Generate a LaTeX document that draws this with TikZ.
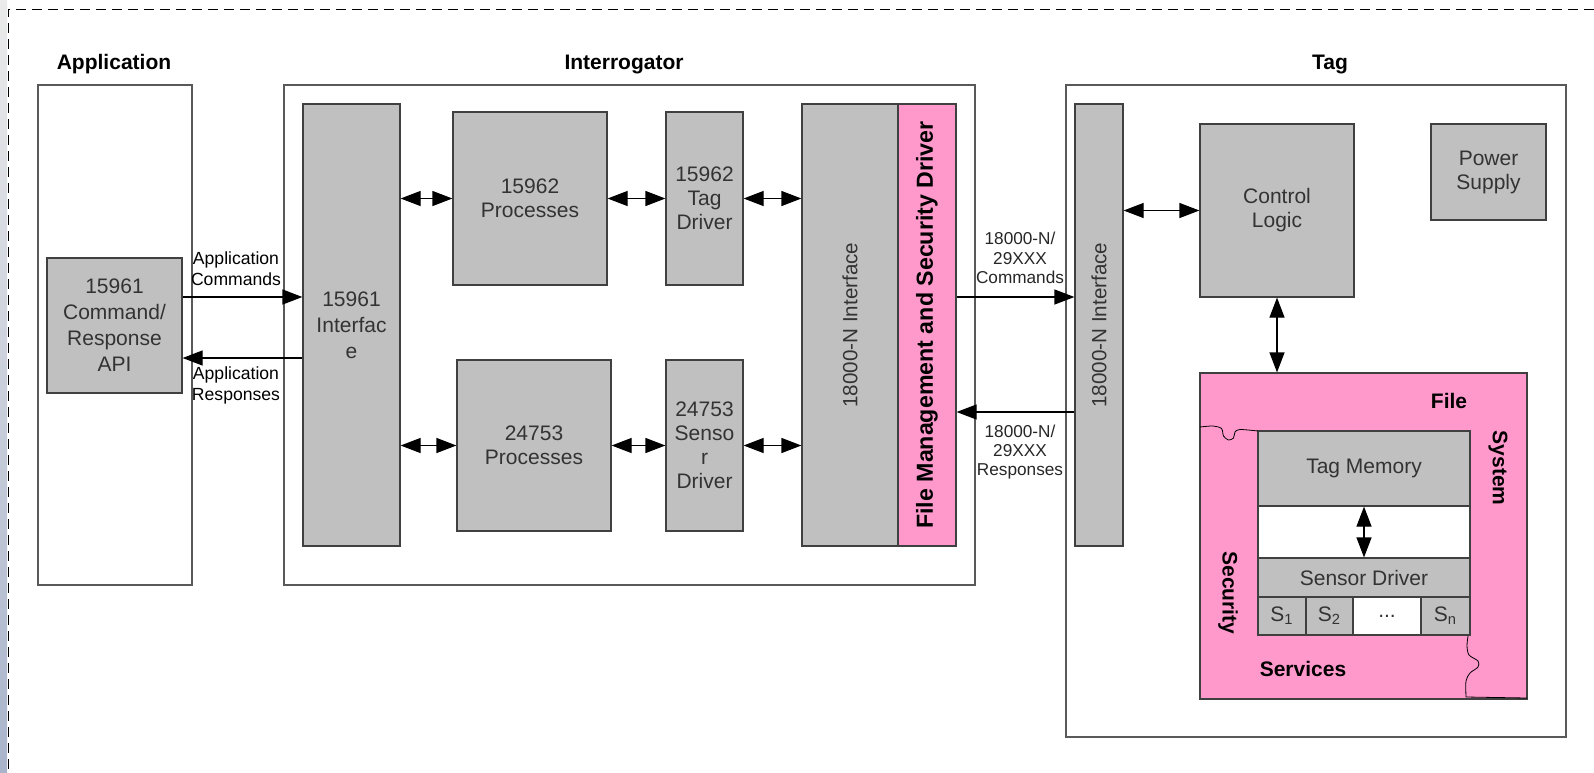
\documentclass[tikz,border=0pt]{standalone}
\usepackage{fontspec}
\setmainfont{Liberation Sans}
\usetikzlibrary{arrows.meta}
\definecolor{boxgray}{HTML}{C0C0C0}
\definecolor{fspink}{HTML}{FF99CC}
\definecolor{slideblue}{HTML}{A9B4CB}

\begin{document}
\begin{tikzpicture}[x=0.5pt,y=-0.5pt,>={Triangle[length=10pt,width=7.5pt]},
  unit/.style={draw=black!75, line width=0.6pt, fill=boxgray, inner sep=1pt, align=center,
    text=black!80, font=\fontsize{10.5}{12}\selectfont},
  frame/.style={draw=black!65, line width=0.7pt, inner sep=0pt},
  heading/.style={font=\fontsize{10.5}{12}\selectfont\bfseries},
  sidetext/.style={rotate=90, text=black!80, font=\fontsize{10.3}{12}\selectfont},
  pinktext/.style={font=\fontsize{10.5}{12}\selectfont\bfseries},
  flowlabel/.style={align=center, font=\fontsize{8.8}{10.5}\selectfont},
  airlabel/.style={align=center, text=black!85, font=\fontsize{8.6}{9.6}\selectfont},
  link/.style={<->, line width=0.6pt},
  puzzle/.style={line width=0.4pt}]
\useasboundingbox (0,0) rectangle (1594,772);
\shade[top color=black!8, bottom color=slideblue] (0,0) rectangle (7,772);
\draw[dash pattern=on 5pt off 3pt, line width=0.5pt] (1594,9) -- (8,9) -- (8,772);

\node[heading] (apptitle) at (114,64) {Application};
\node[heading] (intgtitle) at (624,64) {Interrogator};
\node[heading] (tagtitle) at (1330,64) {Tag};

% outer enclosures
\node[frame, minimum width=77pt, minimum height=250pt] (app) at (115,335) {};
\node[frame, minimum width=345.5pt, minimum height=250pt] (intg) at (629.5,335) {};
\node[frame, minimum width=250pt, minimum height=326pt] (tag) at (1316,411) {};

% application and interrogator blocks
\node[unit, minimum width=67.5pt, minimum height=67.5pt, font=\fontsize{10.5}{13}\selectfont] (api) at (114.5,325.5) {15961\\Command/\\Response\\API};
\node[unit, minimum width=48.5pt, minimum height=221pt, font=\fontsize{10.5}{13}\selectfont] (ifc) at (351.5,325) {15961\\Interfac\\e};
\node[unit, minimum width=77pt, minimum height=86.5pt] (proctag) at (530,198.5) {15962\\Processes};
\node[unit, minimum width=38.5pt, minimum height=86.5pt] (tagdrv) at (704.5,198.5) {15962\\Tag\\Driver};
\node[unit, minimum width=77pt, minimum height=85.5pt] (procsens) at (534,445.5) {24753\\Processes};
\node[unit, minimum width=38.5pt, minimum height=85.5pt] (sensdrv) at (704.5,445.5) {24753\\Senso\\r\\Driver};
\node[unit, minimum width=48pt, minimum height=221pt] (airifc) at (850,325) {};
\node[sidetext] (airifctext) at (airifc) {18000-N Interface};
\node[unit, fill=fspink, minimum width=29pt, minimum height=221pt] (fmsd) at (927,325) {};
\node[rotate=90, font=\fontsize{11.6}{12}\selectfont\bfseries] (fmsdtext) at (fmsd) {File Management and Security Driver};

% tag blocks
\node[unit, minimum width=24pt, minimum height=221pt] (tagifc) at (1099,325) {};
\node[sidetext] (tagifctext) at (tagifc) {18000-N Interface};
\node[unit, minimum width=77pt, minimum height=86.5pt] (ctrl) at (1277,210.5) {Control\\Logic};
\node[unit, minimum width=57.5pt, minimum height=48pt] (power) at (1488.5,172) {Power\\Supply};
\node[unit, fill=fspink, minimum width=163.5pt, minimum height=163pt] (fs) at (1363.5,536) {};
\node[unit, fill=white, minimum width=106pt, minimum height=102pt] (memstack) at (1364,533) {};
\node[unit, minimum width=106pt, minimum height=37.5pt] (tagmem) at (1364,468.5) {Tag Memory};
\node[unit, minimum width=106pt, minimum height=19.5pt] (sdrv) at (1364,577.5) {Sensor Driver};
\node[unit, minimum width=24pt, minimum height=19pt] (s1) at (1282,616) {S\textsubscript{1}};
\node[unit, minimum width=23.5pt, minimum height=19pt] (s2) at (1329.5,616) {S\textsubscript{2}};
\node[unit, fill=white, minimum width=34pt, minimum height=19pt] (sdots) at (1387,616) {...};
\node[unit, minimum width=24.5pt, minimum height=19pt] (sn) at (1445.5,616) {S\textsubscript{n}};

\node[pinktext] (filetext) at (1449,401) {File};
\node[pinktext, rotate=-90] (systemtext) at (1498,468) {System};
\node[pinktext, rotate=-90] (securitytext) at (1228,593) {Security};
\node[pinktext] (servicestext) at (1303,669) {Services};
\draw[puzzle] plot[smooth] coordinates {(1200,427) (1213,426) (1221.5,428.5) (1223.5,436) (1228.5,440) (1233.5,438) (1235,432) (1240,429.5) (1258,431)};
\draw[puzzle] plot[smooth] coordinates {(1468,636) (1467,646) (1469,655) (1478,661) (1478,667) (1470,673) (1466,681) (1466,697)} -- (1527,698);

% connectors
\coordinate (appcmd) at (0,297);
\coordinate (apprsp) at (0,358);
\coordinate (aircmd) at (0,297);
\coordinate (airrsp) at (0,412);
\draw[->, line width=0.6pt] (api.east |- appcmd) -- (ifc.west |- appcmd);
\draw[->, line width=0.6pt] (ifc.west |- apprsp) -- (api.east |- apprsp);
\draw[link] (ifc.east |- proctag.west) -- (proctag.west);
\draw[link] (proctag) -- (tagdrv);
\draw[link] (tagdrv.east) -- (airifc.west |- tagdrv.east);
\draw[link] (ifc.east |- procsens.west) -- (procsens.west);
\draw[link] (procsens) -- (sensdrv);
\draw[link] (sensdrv.east) -- (airifc.west |- sensdrv.east);
\draw[->, line width=0.6pt] (fmsd.east |- aircmd) -- (tagifc.west |- aircmd);
\draw[->, line width=0.6pt] (tagifc.west |- airrsp) -- (fmsd.east |- airrsp);
\draw[link] (tagifc.east |- ctrl.west) -- (ctrl.west);
\draw[link] (ctrl.south) -- (ctrl.south |- fs.north);
\draw[link] (tagmem.south) -- (sdrv.north);

\node[flowlabel] (cmdlabel) at (236,269) {Application\\Commands};
\node[flowlabel] (rsplabel) at (236,385) {Application\\Responses};
\node[airlabel] (aircmdlabel) at (1020,258) {18000-N/\\29XXX\\Commands};
\node[airlabel] (airrsplabel) at (1020,452) {18000-N/\\29XXX\\Responses};
\end{tikzpicture}
\end{document}
